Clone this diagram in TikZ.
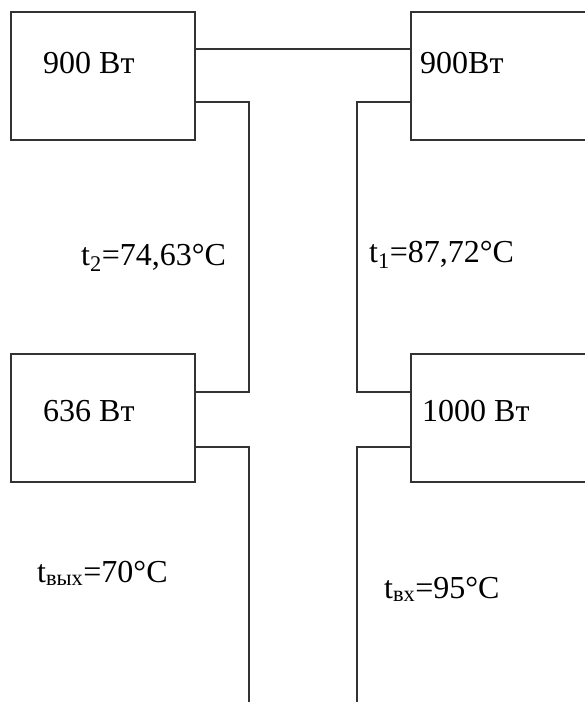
\documentclass[tikz,border=0pt]{standalone}
\usepackage{fontspec}
\setmainfont{Liberation Serif}
\usepackage{tikz}
\usetikzlibrary{positioning, calc}

\begin{document}
\begin{tikzpicture}[
  x=1pt, y=-1pt,
  rbox/.style={draw=black!80, line width=1.2pt, minimum width=184pt, minimum height=128pt, inner sep=0pt},
  pipe/.style={draw=black!80, line width=1.2pt},
  lbl/.style={anchor=base west, inner sep=0pt, font=\fontsize{32}{38}\selectfont}
]
  \clip (0,0) rectangle (585,702);
  \fill[white] (0,0) rectangle (585,702);

  % radiators
  \node[rbox] (rad1) at (103,76) {};
  \node[rbox, minimum width=190pt] (rad2) at (506,76) {};
  \node[rbox] (rad3) at (103,418) {};
  \node[rbox, minimum width=190pt] (rad4) at (506,418) {};

  % labels
  \node[lbl] (p1) at (43,73) {900 Вт};
  \node[lbl] (p2) at (420,73) {900Вт};
  \node[lbl] (p3) at (43,421) {636 Вт};
  \node[lbl] (p4) at (422,421) {1000 Вт};
  \node[lbl] (tt2) at (81,265) {t\textsubscript{2}=74,63°C};
  \node[lbl] (tt1) at (369,262) {t\textsubscript{1}=87,72°C};
  \node[lbl] (tout) at (37,582) {t\textsubscript{вых}=70°C};
  \node[lbl] (tin) at (384,598) {t\textsubscript{вх}=95°C};

  % free pipe ends
  \coordinate (endL) at (249,702);
  \coordinate (endR) at (357,702);

  % pipes
  \draw[pipe] (rad1.east |- 0,49) -- (rad2.west |- 0,49);
  \draw[pipe] (rad1.east |- 0,102) -| (249,392) -- (rad3.east |- 0,392);
  \draw[pipe] (rad2.west |- 0,102) -| (357,392) -- (rad4.west |- 0,392);
  \draw[pipe] (rad3.east |- 0,447) -| (endL);
  \draw[pipe] (rad4.west |- 0,447) -| (endR);
\end{tikzpicture}
\end{document}
